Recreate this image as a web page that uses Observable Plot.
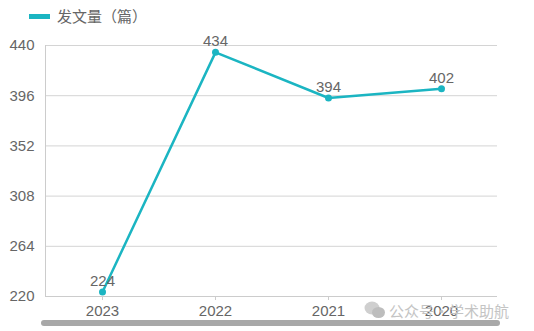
<!DOCTYPE html>
<html>
<head>
<meta charset="utf-8">
<script src="https://cdn.jsdelivr.net/npm/d3@7"></script>
<script src="https://cdn.jsdelivr.net/npm/@observablehq/plot@0.6"></script>
<style>
  html, body { margin: 0; padding: 0; background: #fff; }
  #wrap { position: relative; width: 534px; height: 331px; overflow: hidden;
          font-family: "Liberation Sans", Arial, "Noto Sans CJK SC", sans-serif; }
  #legend { position: relative; height: 30px; }
  #legend .sw { position: absolute; left: 29px; top: 14px; width: 21px; height: 5px; background: #1bb5c2; }
  #legend .lb { position: absolute; left: 57px; top: 6px; font-size: 15px; line-height: 20px; color: #666;
                font-family: "Noto Sans CJK SC", sans-serif; }
  #wm { position: absolute; left: 364px; top: 300px; height: 20px; display: flex; align-items: center;
        color: #c4c4c4; font-size: 15px; font-family: "Noto Sans CJK SC", sans-serif; }
  #bar { position: absolute; left: 41px; top: 320px; width: 459px; height: 6px; border-radius: 3px; background: #a8a8a8; }
  svg.plot { position: relative; background: transparent; }
</style>
</head>
<body>
<div id="wrap">
  <div id="legend"><div class="sw"></div><div class="lb">发文量（篇）</div></div>
  <div id="wm">
    <svg width="22" height="18" viewBox="0 0 22 18"><ellipse cx="8" cy="7" rx="7.5" ry="6.5" fill="#cfcfcf"/><ellipse cx="14.5" cy="11.5" rx="6.5" ry="5.5" fill="#bdbdbd"/></svg>
    <span style="margin-left:3px">公众号·学术助航</span>
  </div>
  <div id="chart"></div>
  <div id="bar"></div>
</div>
<script>
const years = ["2023", "2022", "2021", "2020"];
const counts = [224, 434, 394, 402];
const yTicks = [220, 264, 308, 352, 396, 440];
const seriesName = "发文量（篇）";

const data = years.map((y, i) => ({year: y, value: counts[i]}));
const teal = "#1bb5c2";

const plot = Plot.plot({
  width: 534,
  height: 301,
  marginLeft: 45,
  marginRight: 37,
  marginTop: 15,
  marginBottom: 35,
  style: {fontFamily: '"Liberation Sans", Arial, sans-serif', fontSize: "15px", color: "#666", background: "transparent"},
  x: {type: "point", domain: years, padding: 0.5, label: null},
  y: {domain: [220, 440], label: null},
  marks: [
    Plot.gridY(yTicks, {stroke: "#d4d4d4", strokeOpacity: 1, strokeWidth: 1}),
    Plot.axisY({ticks: yTicks, tickSize: 0, tickPadding: 11, label: null, fill: "#666", fontSize: 15}),
    Plot.axisX({tickSize: 4, tickPadding: 5, label: null, fill: "#666", fontSize: 15, stroke: "#ccc"}),
    Plot.line(data, {x: "year", y: "value", stroke: teal, strokeWidth: 2.5}),
    Plot.dot(data, {x: "year", y: "value", fill: teal, r: 3.5}),
    Plot.text(data, {x: "year", y: "value", text: d => String(d.value), dy: -11, fill: "#666", fontSize: 15})
  ]
});

// axis lines (left and bottom) along the plot frame
const sx = plot.scale("x"), sy = plot.scale("y");
const x0 = 45, x1 = 534 - 37;
const yTop = sy.apply(440), yBot = sy.apply(220);
const svg = d3.select(plot);
svg.append("line").attr("x1", x0 + 0.5).attr("x2", x0 + 0.5).attr("y1", yTop).attr("y2", yBot).attr("stroke", "#ccc");
svg.append("line").attr("x1", x0).attr("x2", x1).attr("y1", yBot + 0.5).attr("y2", yBot + 0.5).attr("stroke", "#ccc");
// bring data marks to front
svg.selectAll("g[aria-label='line'], g[aria-label='dot'], g[aria-label='text']").raise();

document.getElementById("chart").appendChild(plot);
</script>
</body>
</html>
